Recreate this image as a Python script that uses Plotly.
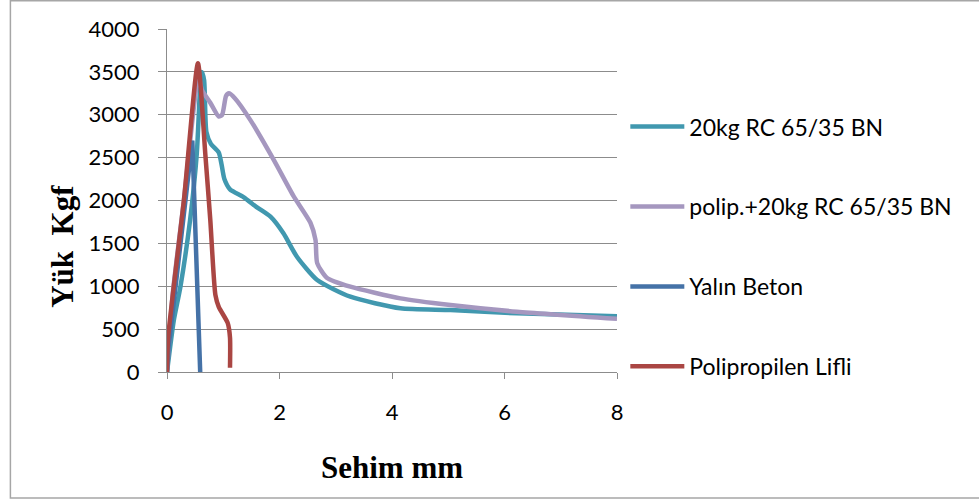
import plotly.graph_objects as go

# Load–deflection curves (Sehim mm vs Yük Kgf)
rc_x = [0, 0.12, 0.24, 0.41, 0.53, 0.59, 0.62, 0.66, 0.70, 0.78, 0.92, 0.97, 1.02,
        1.12, 1.36, 1.60, 1.84, 2.07, 2.31, 2.67, 3.26, 4.15, 5.04, 6.22, 8.0]
rc_y = [0, 600, 1000, 1770, 2550, 3330, 3500, 3400, 2800, 2660, 2560, 2420, 2250,
        2130, 2040, 1920, 1811, 1617, 1344, 1073, 878, 743, 723, 684, 650]

pp_rc_x = [0, 0.10, 0.30, 0.56, 0.62, 0.77, 0.92, 0.98, 1.05, 1.10, 1.21, 1.48, 1.90,
           2.25, 2.55, 2.64, 2.67, 2.84, 3.26, 4.15, 5.04, 6.22, 8.0]
pp_rc_y = [0, 900, 2000, 3450, 3290, 3140, 2980, 3000, 3220, 3250, 3190, 2940, 2470,
           2050, 1740, 1540, 1270, 1100, 995, 859, 781, 703, 620]

plain_x = [0, 0.03, 0.45, 0.59]
plain_y = [0, 300, 2700, 0]

pp_x = [0, 0.02, 0.30, 0.55, 0.68, 0.77, 0.86, 0.92, 1.08, 1.12, 1.12]
pp_y = [0, 400, 2000, 3600, 2550, 1770, 900, 760, 570, 400, 50]

names = ["20kg RC 65/35 BN", "polip.+20kg RC 65/35 BN", "Yalın Beton", "Polipropilen Lifli"]
colors = ["#4198AF", "#A597BF", "#4572A7", "#AA4643"]
shapes_ = ["spline", "spline", "linear", "spline"]

x_ticks = [0, 2, 4, 6, 8]
y_ticks = [0, 500, 1000, 1500, 2000, 2500, 3000, 3500, 4000]

series = [(rc_x, rc_y), (pp_rc_x, pp_rc_y), (plain_x, plain_y), (pp_x, pp_y)]

fig = go.Figure()
for i, ((xs, ys), name, col, shp) in enumerate(zip(series, names, colors, shapes_)):
    fig.add_trace(go.Scatter(
        x=xs, y=ys, mode="lines", name=name, legendgroup=str(i),
        line=dict(color=col, width=4.5, shape=shp,
                  **({"smoothing": 0.6} if shp == "spline" else {})),
    ))

grid = "#8C8C8C"
label_font = dict(family="Lato", size=22, color="#000000")
legend_font = dict(family="Lato", size=23, color="#000000")

fig.update_layout(
    width=979, height=504,
    margin=dict(l=167, r=362, t=29, b=132),
    paper_bgcolor="white", plot_bgcolor="white",
    showlegend=True,
    legend=dict(
        x=1.0185, y=0.778, xanchor="left", yanchor="top",
        font=legend_font, tracegroupgap=47, itemwidth=54,
        bgcolor="rgba(0,0,0,0)",
    ),
    xaxis=dict(
        range=[0, 8], tickvals=x_ticks, showgrid=False, zeroline=False,
        showline=True, linecolor=grid, linewidth=1.3,
        ticks="outside", ticklen=6, tickcolor=grid, tickwidth=1.3,
        tickfont=label_font, ticklabelstandoff=14,
    ),
    yaxis=dict(
        range=[0, 4000], tickvals=y_ticks, showgrid=True, gridcolor=grid, gridwidth=1.3,
        zeroline=False, showline=True, linecolor=grid, linewidth=1.3,
        ticks="outside", ticklen=8, tickcolor=grid, tickwidth=1.3,
        tickfont=label_font, ticklabelstandoff=14,
    ),
    shapes=[dict(
        type="rect", xref="paper", yref="paper",
        x0=-0.348, x1=1.9, y0=-0.367, y1=1.082,
        line=dict(color="#A6A6A6", width=1.5), fillcolor="rgba(0,0,0,0)", layer="below",
    )],
    annotations=[
        dict(text="<b>Sehim mm</b>", xref="paper", yref="paper", x=0.5, y=-0.277,
             xanchor="center", yanchor="middle", showarrow=False,
             font=dict(family="Liberation Serif", size=31, color="#000000")),
        dict(text="<b>Yük  Kgf</b>", xref="paper", yref="paper", x=-0.234, y=0.367,
             xanchor="center", yanchor="middle", showarrow=False, textangle=-90,
             font=dict(family="Liberation Serif", size=31, color="#000000")),
    ],
)

fig.write_html("out.html")
